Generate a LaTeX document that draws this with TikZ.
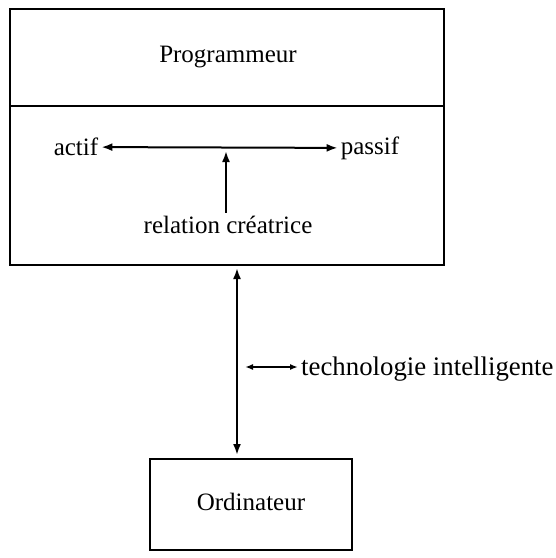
\documentclass[tikz,border=0pt]{standalone}
\usepackage{fontspec}
\setmainfont{Liberation Serif}
\usetikzlibrary{arrows.meta,positioning}
\tikzset{
  box/.style={draw, line width=2pt, inner sep=0pt},
  lbl/.style={font=\fontsize{25}{30}\selectfont, inner sep=3pt},
  arr/.style={line width=2pt, -{Latex[length=11pt,width=8pt]}},
  darr/.style={line width=2pt, {Latex[length=11pt,width=8pt]}-{Latex[length=11pt,width=8pt]}},
  sarr/.style={line width=2pt, {Latex[length=8pt,width=6pt]}-{Latex[length=8pt,width=6pt]}}
}
\begin{document}
\begin{tikzpicture}[x=1pt,y=-1pt]
  \useasboundingbox (0,0) rectangle (556,558);
  % boxes
  \node[box, minimum width=434pt, minimum height=256pt] (prog) at (227,137) {};
  \node[box, minimum width=202pt, minimum height=91pt] (ord) at (251,504.5) {};
  \coordinate (divl) at (10,106);
  \coordinate (divr) at (444,106);
  \draw[line width=2pt] (divl) -- (divr);
  % texts
  \node[lbl] (progtitle) at (228,57) {Programmeur};
  \node[lbl] (actif) at (76,147) {actif};
  \node[lbl] (passif) at (370,148) {passif};
  \node[lbl] (rel) at (228,225) {relation créatrice};
  \node[lbl] (ordtitle) at (251,502) {Ordinateur};
  \node[lbl, anchor=west, font=\fontsize{26.8}{32}\selectfont] (tech) at (298,369) {technologie intelligente};
  % arrows
  \draw[darr] (actif) -- (passif);
  \coordinate (relend) at (226,151);
  \draw[arr] (rel.north -| relend) -- (relend);
  \coordinate (link) at (237,0);
  \draw[darr, shorten <=2pt, shorten >=3pt] (prog.south -| link) -- (ord.north -| link);
  \coordinate (techl) at (245,367);
  \draw[sarr] (techl) -- (tech.west |- techl);
\end{tikzpicture}
\end{document}
